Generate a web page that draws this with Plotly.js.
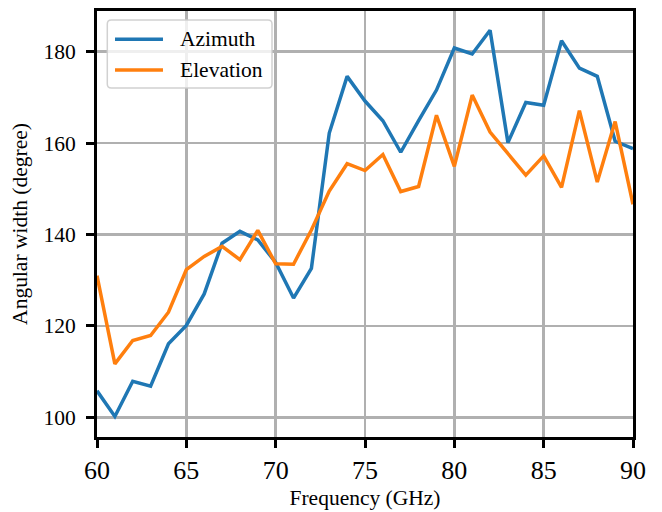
<!DOCTYPE html>
<html>
<head>
<meta charset="utf-8">
<script src="https://cdn.plot.ly/plotly-3.0.1.min.js"></script>
<style>
  html, body { margin: 0; padding: 0; background: #fff; }
  #chart { width: 662px; height: 512px; }
</style>
</head>
<body>
<div id="chart"></div>
<script>
// Frequency (GHz)
const frequency = [60, 61, 62, 63, 64, 65, 66, 67, 68, 69, 70, 71, 72, 73, 74, 75,
                   76, 77, 78, 79, 80, 81, 82, 83, 84, 85, 86, 87, 88, 89, 90];
// Angular width (degree)
const azimuth = [105.8, 100.2, 107.9, 106.8, 116.1, 120.1, 127.0, 138.1, 140.7, 138.8,
                 133.9, 126.1, 132.6, 162.2, 174.6, 169.2, 164.9, 158.0, 164.9, 171.6,
                 180.8, 179.5, 184.7, 160.1, 168.9, 168.3, 182.4, 176.4, 174.6, 160.4, 158.8];
const elevation = [131.0, 111.7, 116.8, 117.9, 123.0, 132.3, 135.2, 137.4, 134.5, 140.9,
                   133.6, 133.5, 141.0, 149.5, 155.5, 154.0, 157.5, 149.4, 150.5, 166.1,
                   154.9, 170.5, 162.4, 157.8, 153.0, 157.2, 150.3, 167.1, 151.5, 164.7, 146.6];
const seriesNames = ["Azimuth", "Elevation"];
const seriesColors = ["#1f77b4", "#ff7f0e"];
const xTicks = [60, 65, 70, 75, 80, 85, 90];
const yTicks = [100, 120, 140, 160, 180];

const FONT = "'Liberation Serif', 'Times New Roman', Times, serif";

const traces = [azimuth, elevation].map((vals, i) => ({
  x: frequency, y: vals, type: "scatter", mode: "lines",
  name: seriesNames[i],
  line: { color: seriesColors[i], width: 3.5 },
  showlegend: false
}));

// custom legend (matplotlib-style box)
const L = { x0: 0.0192, x1: 0.3265, y0: 0.819, y1: 0.979, rx: 0.0075, ry: 0.0094 };
const boxPath = `M${L.x0 + L.rx},${L.y0} L${L.x1 - L.rx},${L.y0} Q${L.x1},${L.y0} ${L.x1},${L.y0 + L.ry} ` +
  `L${L.x1},${L.y1 - L.ry} Q${L.x1},${L.y1} ${L.x1 - L.rx},${L.y1} L${L.x0 + L.rx},${L.y1} ` +
  `Q${L.x0},${L.y1} ${L.x0},${L.y1 - L.ry} L${L.x0},${L.y0 + L.ry} Q${L.x0},${L.y0} ${L.x0 + L.rx},${L.y0} Z`;
const rowY = [0.9335, 0.8615];
const shapes = [{
  type: "path", xref: "paper", yref: "paper", path: boxPath,
  fillcolor: "rgba(255,255,255,0.8)", line: { color: "rgba(204,204,204,0.9)", width: 1.5 }, layer: "above"
}];
const annotations = [];
seriesNames.forEach((n, i) => {
  shapes.push({
    type: "line", xref: "paper", yref: "paper", x0: 0.0336, x1: 0.1231, y0: rowY[i], y1: rowY[i],
    line: { color: seriesColors[i], width: 3.5 }, layer: "above"
  });
  annotations.push({
    xref: "paper", yref: "paper", x: 0.151, y: rowY[i], xanchor: "left", yanchor: "middle",
    text: n, showarrow: false, font: { family: FONT, size: 21.5, color: "#000" }
  });
});

const layout = {
  width: 662, height: 512,
  margin: { l: 97, r: 29, t: 11, b: 75 },
  paper_bgcolor: "#fff", plot_bgcolor: "#fff",
  font: { family: FONT, color: "#000" },
  xaxis: {
    range: [60, 90], tickvals: xTicks, ticktext: xTicks.map(String),
    ticks: "outside", ticklen: 8, tickwidth: 3, tickcolor: "#000",
    showline: true, linecolor: "#000", linewidth: 3, mirror: true,
    showgrid: true, gridcolor: "#b0b0b0", gridwidth: 2.5,
    zeroline: false,
    tickfont: { family: FONT, size: 26, color: "#000" },
    ticklabelstandoff: 0,
    title: { text: "Frequency (GHz)", font: { family: FONT, size: 21.5, color: "#000" }, standoff: 6 }
  },
  yaxis: {
    range: [95.7, 188.9], tickvals: yTicks, ticktext: yTicks.map(String),
    ticks: "outside", ticklen: 8, tickwidth: 3, tickcolor: "#000",
    showline: true, linecolor: "#000", linewidth: 3, mirror: true,
    showgrid: true, gridcolor: "#b0b0b0", gridwidth: 2.5,
    zeroline: false,
    tickfont: { family: FONT, size: 21.5, color: "#000" },
    ticklabelstandoff: 6,
    title: { text: "Angular width (degree)", font: { family: FONT, size: 21.5, color: "#000" }, standoff: 10 }
  },
  shapes: shapes,
  annotations: annotations,
  showlegend: false
};

Plotly.newPlot("chart", traces, layout, { displayModeBar: false, staticPlot: true });
</script>
</body>
</html>
